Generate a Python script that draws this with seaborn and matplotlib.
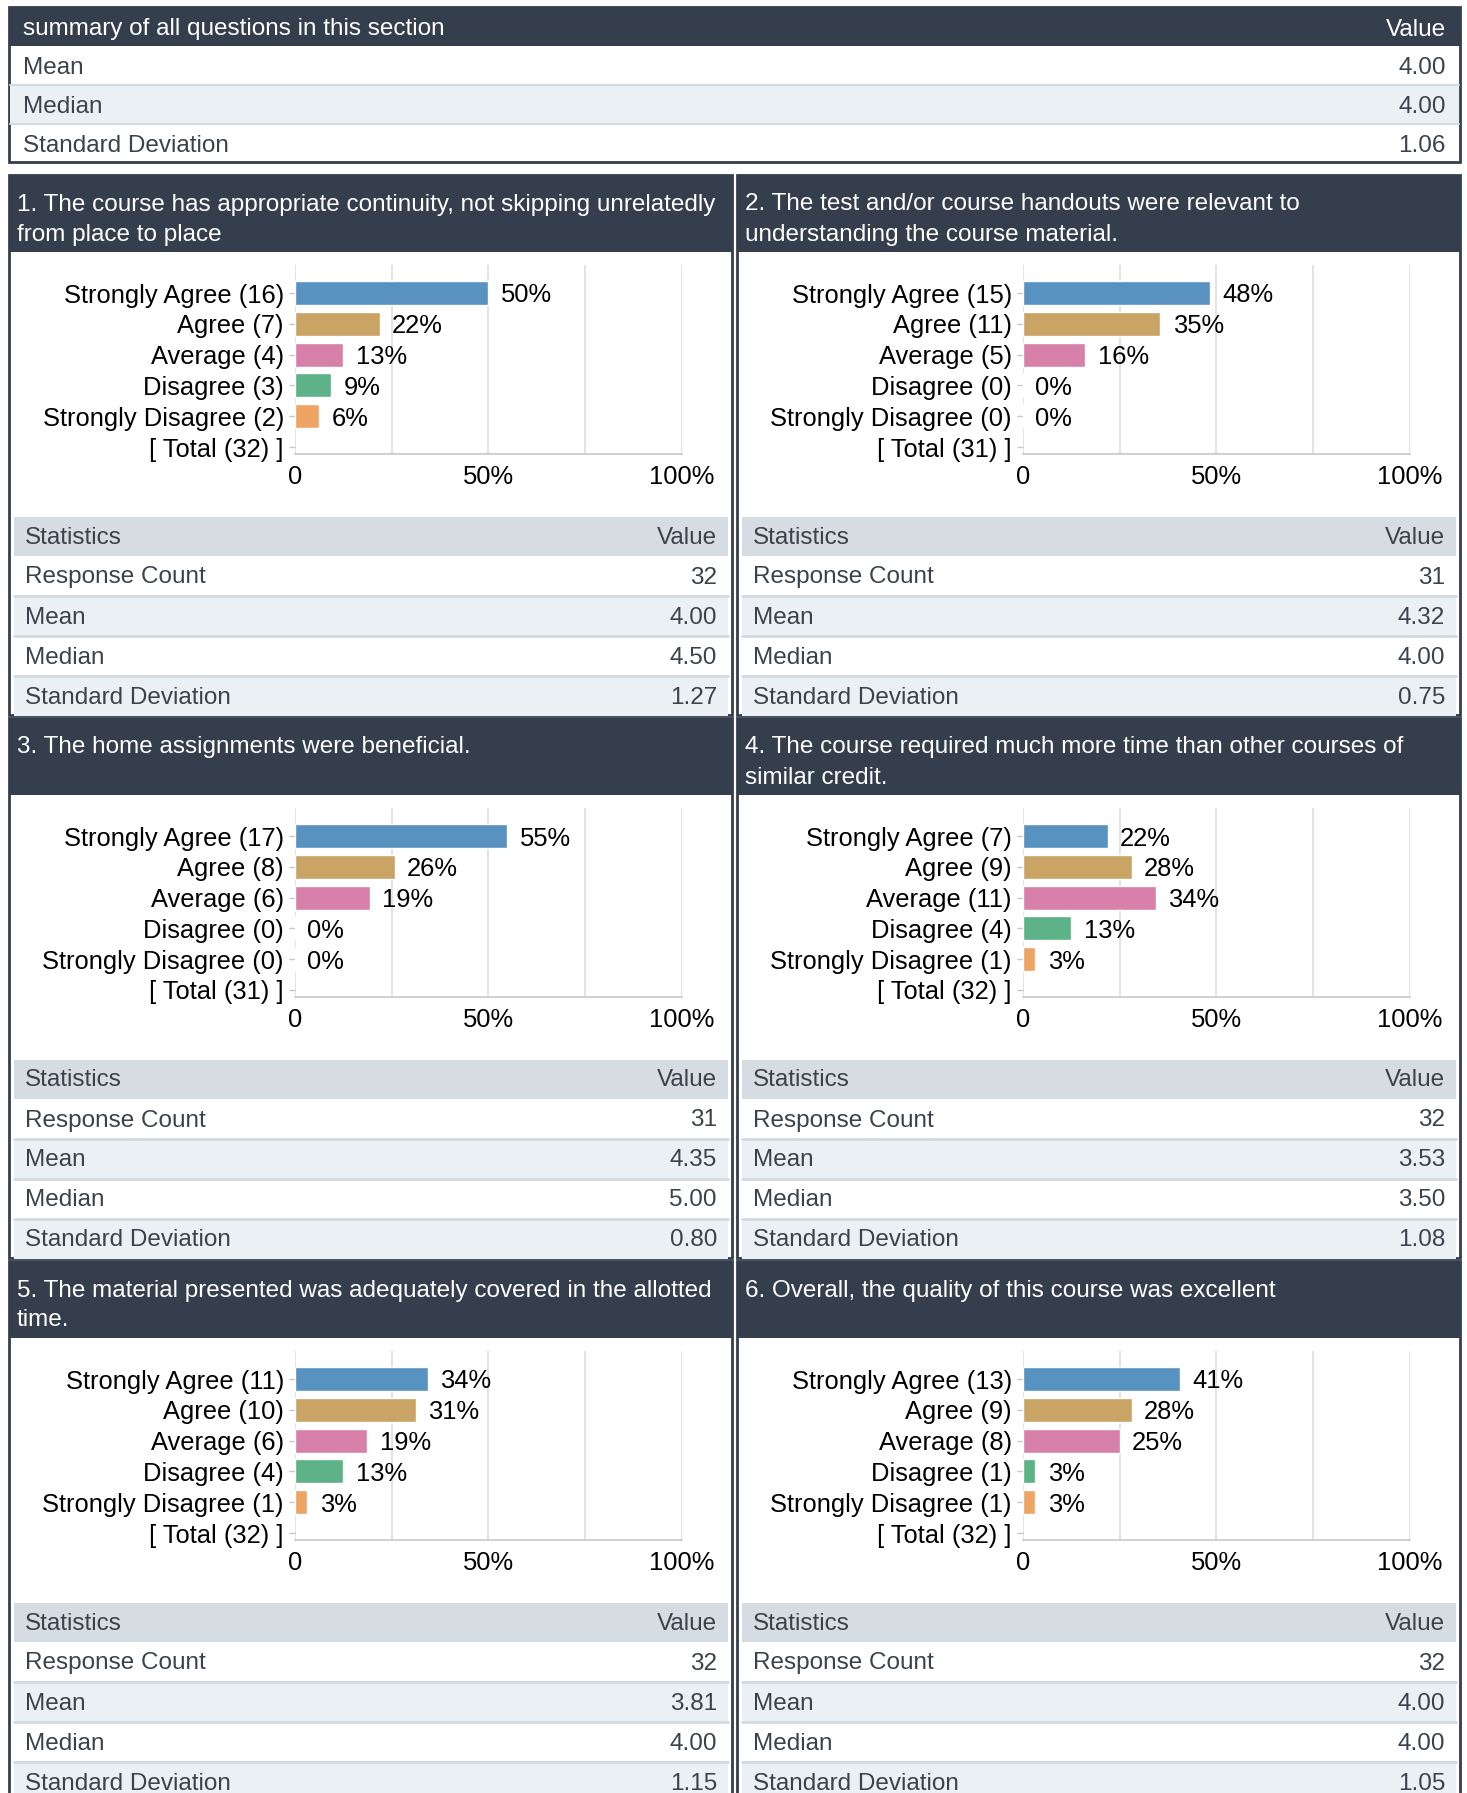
import matplotlib
matplotlib.use("Agg")
import matplotlib.pyplot as plt
import numpy as np
import pandas as pd
import seaborn as sns
from matplotlib.patches import Rectangle

sns.set_theme(style="white")
plt.rcParams["font.family"] = ["Liberation Sans", "DejaVu Sans"]

# ---- data ----
summary_labels = ["Mean", "Median", "Standard Deviation"]
summary_values = ["4.00", "4.00", "1.06"]

titles = [
    ["1. The course has appropriate continuity, not skipping unrelatedly", "from place to place"],
    ["2. The test and/or course handouts were relevant to", "understanding the course material."],
    ["3. The home assignments were beneficial."],
    ["4. The course required much more time than other courses of", "similar credit."],
    ["5. The material presented was adequately covered in the allotted", "time."],
    ["6. Overall, the quality of this course was excellent"],
]

answers = ["Strongly Agree", "Agree", "Average", "Disagree", "Strongly Disagree"]
counts = [
    [16, 7, 4, 3, 2],
    [15, 11, 5, 0, 0],
    [17, 8, 6, 0, 0],
    [7, 9, 11, 4, 1],
    [11, 10, 6, 4, 1],
    [13, 9, 8, 1, 1],
]

stat_names = ["Response Count", "Mean", "Median", "Standard Deviation"]
stat_values = [
    ["32", "4.00", "4.50", "1.27"],
    ["31", "4.32", "4.00", "0.75"],
    ["31", "4.35", "5.00", "0.80"],
    ["32", "3.53", "3.50", "1.08"],
    ["32", "3.81", "4.00", "1.15"],
    ["32", "4.00", "4.00", "1.05"],
]

bar_colors = ["#5792c0", "#c9a465", "#d680aa", "#5db387", "#eea463"]

# ---- style ----
W, H = 1467, 1793
DARK = "#343e4c"
LIGHT = "#ebf0f4"
GRAYHEAD = "#d6dde2"
SEP = "#d3dae0"
TXT = "#3b424c"
FS = 17.5      # table text
CFS = 18.4     # chart text

fig = plt.figure(figsize=(W / 100, H / 100), dpi=100)
bg = fig.add_axes([0, 0, 1, 1])
bg.set_xlim(0, W)
bg.set_ylim(H, 0)
bg.axis("off")


def rect(x, y, w, h, **kw):
    bg.add_patch(Rectangle((x, y), w, h, **kw))


def cell_text(x, y, s, color=TXT, ha="left"):
    bg.text(x, y, s, color=color, fontsize=FS, va="center_baseline", ha=ha, zorder=3)


# summary table
rect(9, 7, 1451, 155, facecolor="white", edgecolor=DARK, lw=2, zorder=1)
rect(9, 7, 1451, 39, facecolor=DARK, edgecolor="none", zorder=2)
cell_text(23, 27, "summary of all questions in this section", color="white")
cell_text(1446, 27, "Value", color="white", ha="right")
for i, (lab, val) in enumerate(zip(summary_labels, summary_values)):
    y0 = 46 + i * 39
    if i == 1:
        rect(10, y0, 1449, 39, facecolor=LIGHT, edgecolor="none", zorder=2)
    if i > 0:
        bg.plot([10, 1459], [y0, y0], color=SEP, lw=1.5, zorder=2)
    cell_text(23, y0 + 19.5, lab)
    cell_text(1446, y0 + 19.5, val, ha="right")

panel_x = [9, 737]
panel_top = [175, 718, 1261]
PW = 723

for q in range(6):
    px = panel_x[q % 2]
    T = panel_top[q // 2]

    # frame and header
    rect(px, T, PW, 540, facecolor="white", edgecolor=DARK, lw=2, zorder=1)
    rect(px, T, PW, 77, facecolor=DARK, edgecolor="none", zorder=2)
    for k, line in enumerate(titles[q]):
        cell_text(px + 8, T + 27 + 30 * k, line, color="white")

    # stats table
    tx0, tx1 = px + 5, px + 719
    rect(tx0, T + 342, tx1 - tx0, 39, facecolor=GRAYHEAD, edgecolor="none", zorder=2)
    cell_text(px + 16, T + 360, "Statistics")
    cell_text(px + 708, T + 360, "Value", ha="right")
    for i, (name, val) in enumerate(zip(stat_names, stat_values[q])):
        y0 = T + 381 + i * 40
        if i % 2 == 1:
            rect(tx0, y0, tx1 - tx0, 40, facecolor=LIGHT, edgecolor="none", zorder=2)
        if i > 0:
            bg.plot([tx0, tx1], [y0, y0], color=SEP, lw=2, zorder=2)
        cell_text(px + 16, y0 + 19, name)
        cell_text(px + 708, y0 + 19, val, ha="right")

    # bar chart
    total = sum(counts[q])
    pct = [100 * c / total for c in counts[q]]
    cats = [f"{a} ({c})" for a, c in zip(answers, counts[q])]
    order = cats + [f"[ Total ({total}) ]"]
    df = pd.DataFrame({"cat": cats, "pct": pct})

    x0, x1 = px + 286, px + 672.5
    ytop, ybot = T + 90, T + 279
    ax = fig.add_axes([x0 / W, 1 - ybot / H, (x1 - x0) / W, (ybot - ytop) / H])
    ax.set_facecolor("none")
    for g in [0, 25, 50, 75, 100]:
        ax.axvline(g, color="#dedede", lw=1.2, zorder=0)
    sns.barplot(data=df, x="pct", y="cat", hue="cat", order=order, hue_order=cats,
                palette=bar_colors, orient="h", width=0.78, saturation=1,
                legend=False, ax=ax, zorder=2)
    for i, p in enumerate(pct):
        ax.annotate(f"{int(p + 0.5)}%", (p, i), xytext=(9, 0), textcoords="offset points",
                    va="center_baseline", ha="left", fontsize=CFS, color="black")
    ax.set_xlim(0, 100)
    row = 30.8
    ax.set_ylim((279 - 118) / row, -(118 - 90) / row)
    ax.set_xticks([0, 50, 100])
    ax.set_xticklabels(["0", "50%", "100%"])
    ax.set_xlabel("")
    ax.set_ylabel("")
    for s in ["top", "right", "left"]:
        ax.spines[s].set_visible(False)
    ax.spines["bottom"].set_color("#c8c8c8")
    ax.spines["bottom"].set_linewidth(1.2)
    ax.tick_params(axis="x", length=0, pad=8, labelsize=CFS, labelcolor="black")
    ax.tick_params(axis="y", length=4, width=1, color="#c8c8c8", pad=4,
                   labelsize=CFS, labelcolor="black", left=True)

fig.savefig("out.png", dpi=100)
